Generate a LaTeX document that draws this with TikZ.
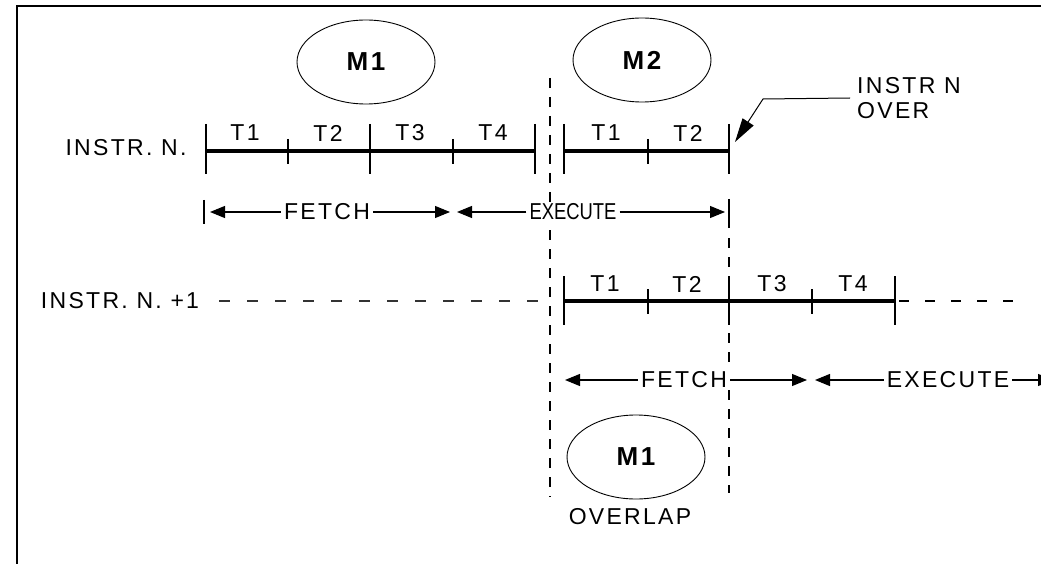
\documentclass[tikz,border=0pt]{standalone}
\usepackage{graphicx}
\usepackage{fontspec}
\setmainfont{Liberation Sans}
\newfontfamily\spfont[LetterSpace=10]{Liberation Sans}
\usetikzlibrary{arrows.meta,shapes.geometric}
\begin{document}
\begin{tikzpicture}[x=1pt,y=-1pt,
  lbl/.style={font=\spfont\fontsize{23}{25}\selectfont, inner sep=0pt},
  albl/.style={font=\spfont\fontsize{23}{25}\selectfont, inner xsep=3pt, inner ysep=1pt, fill=white},
  mem/.style={ellipse, draw, line width=0.9pt, minimum width=138pt, minimum height=84pt, inner sep=0pt,
              font=\spfont\bfseries\fontsize{26}{28}\selectfont},
  tline/.style={line width=3.5pt},
  tick/.style={line width=1.3pt},
  vdash/.style={line width=1.2pt, dash pattern=on 10pt off 9pt},
  arr/.style={line width=1.1pt, -{Triangle[length=15pt,width=12pt]}},
  bar/.style={line width=1.3pt}]
\useasboundingbox (0,0) rectangle (1041,564);
\clip (0,0) rectangle (1041,564);
% frame
\draw[line width=2.5pt] (17,564) -- (17,6) -- (1041,6);

% vertical dashed lines (drawn first, text covers them)
\coordinate (v1t) at (550,78);
\coordinate (v1b) at (550,497);
\coordinate (v2t) at (729,238);
\coordinate (v2b) at (729,493);
\draw[vdash] (v1t) -- (v1b);
\draw[vdash] (v2t) -- (v2b);

% memory ellipses
\node[mem] (m1a) at (366,62) {M1};
\node[mem] (m2) at (642,60) {M2};
\node[mem] (m1b) at (636,457) {M1};
\node[lbl] (ovl) at (630,517) {OVERLAP};

% row labels
\node[lbl] (rn) at (126,148) {INSTR. N.};
\node[lbl] (rn1) at (120,301) {INSTR. N. +1};

% top timeline
\coordinate (a0) at (206,151);
\coordinate (a4) at (535,151);
\coordinate (b0) at (564,151);
\coordinate (b2) at (729,151);
\draw[tline] (a0) -- (a4);
\draw[tline] (b0) -- (b2);
\foreach \x in {206,370,535,564,729} \draw[tick] (\x,124) -- (\x,174);
\foreach \x in {288,453,648} \draw[tick] (\x,139) -- (\x,164);
\node[lbl] (t1a) at (245,133) {T1};
\node[lbl] (t2a) at (328,133) {T2};
\node[lbl] (t3a) at (410,133) {T3};
\node[lbl] (t4a) at (493,133) {T4};
\node[lbl] (t1b) at (606,133) {T1};
\node[lbl] (t2b) at (688,133) {T2};

% bottom timeline
\coordinate (c0) at (564,301);
\coordinate (c4) at (895,301);
\draw[tline] (c0) -- (c4);
\foreach \x in {564,729,895} \draw[tick] (\x,276) -- (\x,325);
\foreach \x in {648,812} \draw[tick] (\x,289) -- (\x,314);
\node[lbl] (t1c) at (605,284) {T1};
\node[lbl] (t2c) at (687,284) {T2};
\node[lbl] (t3c) at (772,284) {T3};
\node[lbl] (t4c) at (853,284) {T4};
\coordinate (d0) at (219,301);
\coordinate (d1) at (538,301);
\draw[line width=1.2pt, black!80, dash pattern=on 11pt off 17pt] (d0) -- (d1);
\coordinate (e0) at (899,301);
\coordinate (e1) at (1018,301);
\draw[line width=2pt, dash pattern=on 10pt off 16pt] (e0) -- (e1);

% row 1 fetch / execute
\node[albl] (f1) at (327,212) {FETCH};
\node[font=\fontsize{23}{25}\selectfont, inner xsep=3pt, inner ysep=1pt, fill=white] (x1) at (573,212) {\scalebox{0.8}[1]{EXECUTE}};
\coordinate (p1) at (210,212);
\coordinate (p2) at (450,212);
\coordinate (p3) at (457,212);
\coordinate (p4) at (725,212);
\draw[bar] (204,200) -- (204,224);
\draw[bar] (729,199) -- (729,228);
\draw[arr] (f1.west) -- (p1);
\draw[arr] (f1.east) -- (p2);
\draw[arr] (x1.west) -- (p3);
\draw[arr] (x1.east) -- (p4);

% row 2 fetch / execute
\node[albl] (f2) at (684,380) {FETCH};
\node[albl] (x2) at (948,380) {EXECUTE};
\coordinate (q1) at (565,380);
\coordinate (q2) at (807,380);
\coordinate (q3) at (815,380);
\coordinate (q4) at (1053,380);
\draw[arr] (f2.west) -- (q1);
\draw[arr] (f2.east) -- (q2);
\draw[arr] (x2.west) -- (q3);
\draw[arr] (x2.east) -- (q4);

% instr N over
\node[lbl, align=left, anchor=west, inner xsep=7pt] (over) at (850,98) {INSTR N\\OVER};
\coordinate (bend) at (763,99);
\coordinate (tipn) at (735,142);
\draw[line width=1pt, -{Triangle[length=24pt,width=13pt]}] (over.west) -- (bend) -- (tipn);
\end{tikzpicture}
\end{document}
